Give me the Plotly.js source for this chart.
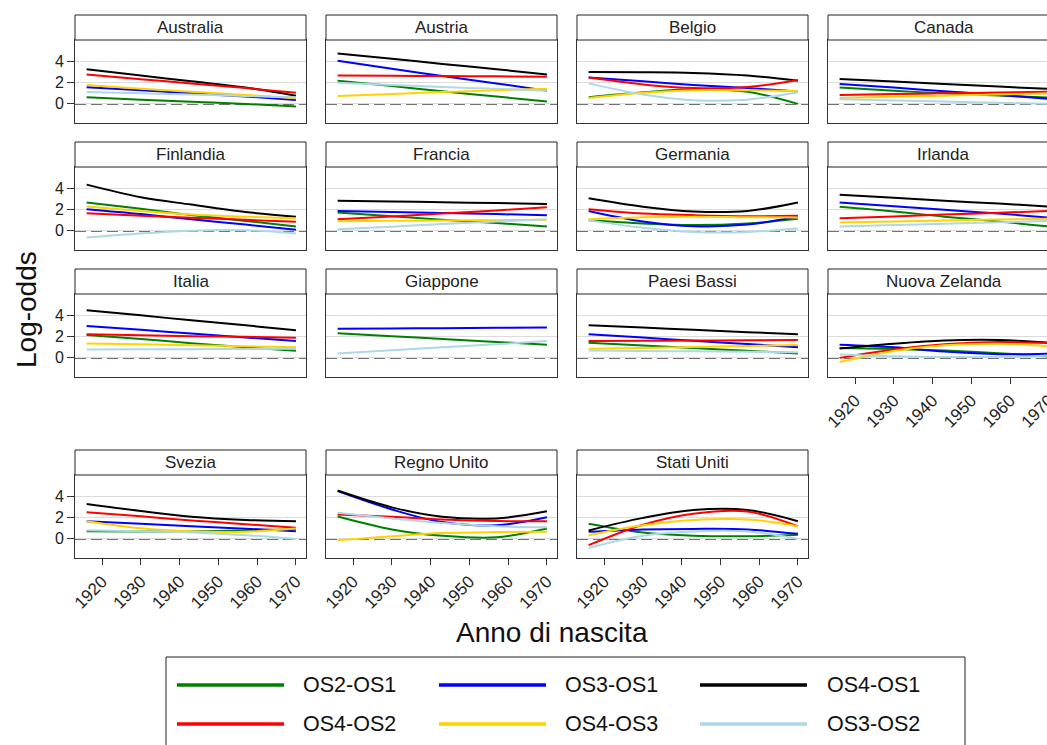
<!DOCTYPE html>
<html>
<head>
<meta charset="utf-8">
<script src="https://cdn.plot.ly/plotly-3.0.1.min.js"></script>
<style>
html, body { margin: 0; padding: 0; overflow: hidden; background: #fff; }
#chart { width: 1070px; height: 752px; }
</style>
</head>
<body>
<div id="chart"></div>
<script>
// ---------------- DATA ----------------
const years = [1916, 1930, 1943, 1957, 1970];
const countries = ["Australia", "Austria", "Belgio", "Canada",
  "Finlandia", "Francia", "Germania", "Irlanda",
  "Italia", "Giappone", "Paesi Bassi", "Nuova Zelanda",
  "Svezia", "Regno Unito", "Stati Uniti"];
const seriesNames = ["OS2-OS1", "OS3-OS1", "OS4-OS1", "OS4-OS2", "OS4-OS3", "OS3-OS2"];
const seriesColors = ["#008000", "#0000ff", "#000000", "#ff0000", "#ffd200", "#add8e6"];
const xTickVals = [1920, 1930, 1940, 1950, 1960, 1970];
const yTickVals = [0, 2, 4];

// one row per country (same order as countries), values at the years above
const OS2_OS1 = [
  [0.63, 0.40, 0.20, 0.00, -0.25],
  [2.20, 1.70, 1.20, 0.70, 0.22],
  [0.63, 1.10, 1.40, 1.15, 0.00],
  [1.55, 1.25, 1.00, 0.80, 0.60],
  [2.70, 2.10, 1.50, 0.95, 0.41],
  [1.75, 1.40, 1.05, 0.75, 0.41],
  [1.00, 0.70, 0.55, 0.70, 1.15],
  [2.29, 1.85, 1.35, 0.90, 0.41],
  [2.18, 1.80, 1.40, 1.00, 0.67],
  [2.34, 2.06, 1.80, 1.52, 1.25],
  [1.44, 1.18, 0.93, 0.67, 0.42],
  [0.95, 0.85, 0.70, 0.45, 0.15],
  [0.73, 0.70, 0.72, 0.80, 0.95],
  [2.13, 0.90, 0.30, 0.15, 0.98],
  [1.43, 0.60, 0.30, 0.25, 0.40]
];
const OS3_OS1 = [
  [1.58, 1.30, 1.00, 0.70, 0.38],
  [4.10, 3.35, 2.65, 1.95, 1.26],
  [2.50, 2.15, 1.80, 1.50, 1.17],
  [1.90, 1.55, 1.20, 0.85, 0.47],
  [2.06, 1.60, 1.10, 0.60, 0.10],
  [1.90, 1.80, 1.70, 1.60, 1.49],
  [1.90, 0.90, 0.45, 0.60, 1.36],
  [2.70, 2.35, 2.00, 1.65, 1.27],
  [3.04, 2.67, 2.32, 1.95, 1.60],
  [2.78, 2.80, 2.83, 2.86, 2.88],
  [2.24, 1.93, 1.63, 1.32, 1.02],
  [1.25, 1.00, 0.60, 0.35, 0.40],
  [1.68, 1.45, 1.20, 0.97, 0.73],
  [4.54, 2.80, 1.60, 1.30, 2.06],
  [0.67, 0.90, 0.95, 0.90, 0.48]
];
const OS4_OS1 = [
  [3.30, 2.70, 2.15, 1.55, 0.78],
  [4.80, 4.30, 3.80, 3.30, 2.80],
  [3.03, 3.02, 2.95, 2.70, 2.20],
  [2.37, 2.12, 1.90, 1.65, 1.42],
  [4.40, 3.20, 2.50, 1.80, 1.35],
  [2.86, 2.80, 2.72, 2.65, 2.57],
  [3.10, 2.30, 1.85, 1.90, 2.70],
  [3.43, 3.15, 2.87, 2.60, 2.32],
  [4.54, 4.05, 3.57, 3.10, 2.62],
  null,
  [3.10, 2.88, 2.67, 2.45, 2.24],
  [0.90, 1.35, 1.65, 1.70, 1.45],
  [3.33, 2.65, 2.10, 1.80, 1.68],
  [4.60, 3.00, 2.10, 1.95, 2.63],
  [0.80, 2.00, 2.75, 2.75, 1.68]
];
const OS4_OS2 = [
  [2.80, 2.35, 1.95, 1.50, 1.07],
  [2.71, 2.68, 2.65, 2.62, 2.59],
  [2.50, 1.85, 1.50, 1.60, 2.27],
  [0.85, 0.93, 1.00, 1.08, 1.17],
  [1.68, 1.45, 1.25, 1.05, 0.86],
  [1.11, 1.38, 1.65, 1.95, 2.25],
  [2.06, 1.65, 1.50, 1.40, 1.43],
  [1.20, 1.38, 1.55, 1.72, 1.90],
  [2.24, 2.15, 2.07, 2.00, 1.92],
  null,
  [1.60, 1.63, 1.65, 1.68, 1.70],
  [0.00, 0.80, 1.30, 1.50, 1.40],
  [2.54, 2.15, 1.75, 1.40, 1.05],
  [2.32, 2.10, 1.85, 1.70, 1.68],
  [-0.60, 1.35, 2.40, 2.60, 1.20]
];
const OS4_OS3 = [
  [1.80, 1.45, 1.15, 0.85, 0.54],
  [0.76, 0.95, 1.12, 1.30, 1.45],
  [0.55, 1.05, 1.30, 1.30, 1.23],
  [0.57, 0.68, 0.78, 0.90, 1.00],
  [2.32, 1.90, 1.55, 1.35, 1.20],
  [0.92, 0.96, 0.99, 1.02, 1.05],
  [1.10, 1.30, 1.35, 1.30, 1.27],
  [0.80, 0.90, 0.99, 1.08, 1.17],
  [1.38, 1.29, 1.20, 1.11, 1.02],
  null,
  [0.86, 0.95, 1.04, 1.13, 1.22],
  [-0.40, 0.65, 1.20, 1.35, 1.10],
  [1.68, 1.00, 0.72, 0.68, 0.98],
  [-0.13, 0.25, 0.55, 0.65, 0.67],
  [0.35, 1.30, 1.80, 1.85, 1.20]
];
const OS3_OS2 = [
  [1.14, 1.00, 0.90, 0.75, 0.63],
  [2.00, 1.80, 1.60, 1.43, 1.26],
  [1.95, 0.90, 0.35, 0.40, 1.10],
  [0.44, 0.33, 0.22, 0.11, 0.00],
  [-0.63, -0.25, 0.02, 0.06, -0.25],
  [0.16, 0.40, 0.65, 0.90, 1.11],
  [1.00, 0.30, -0.10, -0.10, 0.22],
  [0.41, 0.55, 0.68, 0.82, 0.95],
  [0.80, 0.82, 0.83, 0.85, 0.86],
  [0.42, 0.72, 1.00, 1.30, 1.60],
  [0.70, 0.66, 0.62, 0.58, 0.54],
  [0.32, 0.15, 0.08, 0.10, 0.22],
  [0.83, 0.72, 0.60, 0.35, 0.00],
  [2.48, 1.95, 1.50, 1.20, 1.11],
  [-0.86, 0.30, 0.70, 0.70, 0.00]
];
const allSeries = [OS2_OS1, OS3_OS1, OS4_OS1, OS4_OS2, OS4_OS3, OS3_OS2];

// ---------------- LAYOUT GEOMETRY (pixels) ----------------
const W = 1070, H = 752;
const colLeft = [75, 326, 577, 828];
const rowPlotTop = [40, 167, 294, 475];
const panelW = 231, panelH = 83, stripH = 25;
const xRange = [1913, 1972.6];
const yRange = [-1.82, 6.08];
const FONT = "Liberation Sans, Arial, sans-serif";
const fx = p => p / W;
const fy = p => 1 - p / H;

// bottom-most panel in each column shows x tick labels
const showXTicks = new Set([11, 12, 13, 14]);

const traces = [];
const layout = {
  width: W, height: H, autosize: false,
  margin: { l: 0, r: 0, t: 0, b: 0, pad: 0 },
  paper_bgcolor: "#ffffff", plot_bgcolor: "#ffffff",
  showlegend: false,
  font: { family: FONT, color: "#222" },
  shapes: [], annotations: []
};

countries.forEach((name, i) => {
  const r = Math.floor(i / 4), c = i % 4;
  const n = i === 0 ? "" : String(i + 1);
  const xa = "xaxis" + n, ya = "yaxis" + n;
  const x0 = colLeft[c], top = rowPlotTop[r];
  layout[xa] = {
    domain: [fx(x0), fx(x0 + panelW)],
    range: xRange, anchor: "y" + n,
    showgrid: false, zeroline: false,
    showline: true, mirror: true, linecolor: "#333", linewidth: 1,
    tickvals: xTickVals,
    ticks: showXTicks.has(i) ? "outside" : "",
    ticklen: 6, tickcolor: "#333",
    showticklabels: showXTicks.has(i),
    tickangle: -45,
    tickfont: { family: FONT, size: 17, color: "#222" }
  };
  layout[ya] = {
    domain: [fy(top + panelH), fy(top)],
    range: yRange, anchor: "x" + n,
    showgrid: true, gridcolor: "#dcdcdc", gridwidth: 1,
    zeroline: false,
    showline: true, mirror: true, linecolor: "#333", linewidth: 1,
    tickvals: yTickVals,
    ticks: c === 0 ? "outside" : "",
    ticklen: 7, tickcolor: "#333",
    showticklabels: c === 0,
    tickfont: { family: FONT, size: 16, color: "#222" }
  };
  // strip header
  layout.shapes.push({
    type: "rect", xref: "x" + n + " domain", yref: "y" + n + " domain",
    x0: 0, x1: 1, y0: 1, y1: 1 + stripH / panelH,
    line: { color: "#222", width: 1 }, fillcolor: "#ffffff", layer: "above"
  });
  layout.annotations.push({
    text: name, showarrow: false,
    xref: "x" + n + " domain", yref: "y" + n + " domain",
    x: 0.5, y: 1 + (stripH / 2) / panelH, xanchor: "center", yanchor: "middle",
    font: { family: FONT, size: 17, color: "#222" }
  });
  // dashed reference line at zero
  layout.shapes.push({
    type: "line", xref: "x" + n + " domain", yref: "y" + n,
    x0: 0, x1: 1, y0: 0, y1: 0,
    line: { color: "#444", width: 1.5, dash: "11px,5px" }, layer: "below"
  });
  allSeries.forEach((arr, s) => {
    if (!arr[i]) return;
    traces.push({
      type: "scatter", mode: "lines",
      x: years, y: arr[i],
      xaxis: "x" + n, yaxis: "y" + n,
      line: { color: seriesColors[s], width: 2, shape: "spline", smoothing: 1 },
      name: seriesNames[s], hoverinfo: "skip", showlegend: false
    });
  });
});

// axis titles
layout.annotations.push({
  text: "Log-odds", showarrow: false, textangle: -90,
  xref: "paper", yref: "paper", x: fx(26), y: fy(310),
  xanchor: "center", yanchor: "middle",
  font: { family: FONT, size: 28, color: "#111" }
});
layout.annotations.push({
  text: "Anno di nascita", showarrow: false,
  xref: "paper", yref: "paper", x: fx(552), y: fy(632),
  xanchor: "center", yanchor: "middle",
  font: { family: FONT, size: 28, color: "#111" }
});

// legend box
layout.shapes.push({
  type: "rect", xref: "paper", yref: "paper",
  x0: fx(166), x1: fx(965), y0: fy(760), y1: fy(657),
  line: { color: "#222", width: 1 }, fillcolor: "rgba(0,0,0,0)"
});
const legLineX = [177, 439, 700];
const legTextX = [301, 563, 825];
const legRowY = [685, 724];
seriesNames.forEach((nm, s) => {
  const r = Math.floor(s / 3), c = s % 3;
  layout.shapes.push({
    type: "line", xref: "paper", yref: "paper",
    x0: fx(legLineX[c]), x1: fx(legLineX[c] + 107),
    y0: fy(legRowY[r]), y1: fy(legRowY[r]),
    line: { color: seriesColors[s], width: 3.5 }
  });
  layout.annotations.push({
    text: nm, showarrow: false, xref: "paper", yref: "paper",
    x: fx(legTextX[c]), y: fy(legRowY[r]), xanchor: "left", yanchor: "middle",
    font: { family: FONT, size: 21.5, color: "#111" }
  });
});

Plotly.newPlot("chart", traces, layout, { staticPlot: true, displayModeBar: false });
</script>
</body>
</html>
